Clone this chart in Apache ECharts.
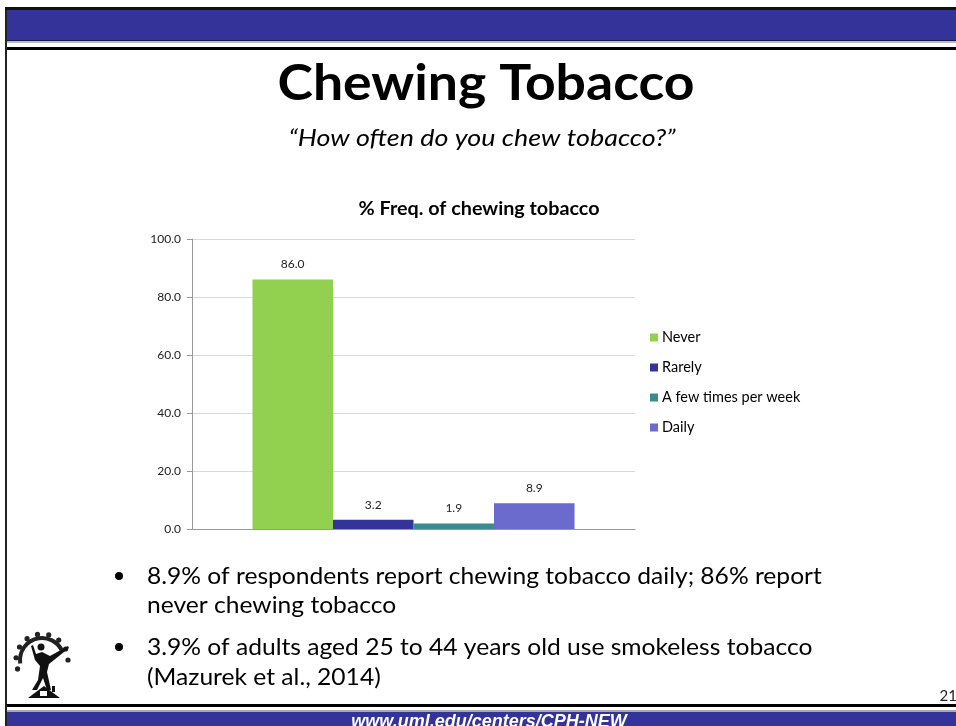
<!DOCTYPE html>
<html>
<head>
<meta charset="utf-8">
<style>
  html, body { margin: 0; padding: 0; background: #fff; }
  #chart { width: 956px; height: 726px; }
</style>
<script src="https://cdn.jsdelivr.net/npm/echarts@6/dist/echarts.min.js"></script>
</head>
<body>
<div id="chart"></div>
<script>
// Survey responses: how often respondents chew tobacco (% of respondents)
const seriesNames = ['Never', 'Rarely', 'A few times per week', 'Daily'];
const seriesValues = [86.0, 3.2, 1.9, 8.9];
const seriesColors = ['#92D050', '#333399', '#3B8C8E', '#6B6BCE'];
const yTicks = [0, 20, 40, 60, 80, 100];

const bullets = [
  ['8.9% of respondents report chewing tobacco daily; 86% report', 'never chewing tobacco'],
  ['3.9% of adults aged 25 to 44 years old use smokeless tobacco', '(Mazurek et al., 2014)']
];

const FONT = 'Lato, "Open Sans", sans-serif';
const chart = echarts.init(document.getElementById('chart'));

const series = seriesNames.map((name, i) => ({
  name: name,
  type: 'bar',
  data: [seriesValues[i]],
  barGap: '0%',
  barCategoryGap: '27.3%',
  itemStyle: { color: seriesColors[i] },
  label: {
    show: true,
    position: 'top',
    distance: 9,
    formatter: p => p.value.toFixed(1),
    fontFamily: FONT,
    fontSize: 12,
    color: '#222'
  }
}));

// horizontally stretched text helper (keeps glyph height, widens run)
function text(x, y, str, font, align, sx, fill) {
  return {
    type: 'text', x: x, y: y, scaleX: sx || 1,
    style: { text: str, fill: fill || '#000', font: font, textAlign: align, textVerticalAlign: 'middle' }
  };
}

// slide frame: header band, rules and footer band
const frame = [
  { type: 'rect', shape: { x: 5, y: 7, width: 2, height: 719 }, style: { fill: '#222' } },
  { type: 'rect', shape: { x: 5, y: 7, width: 951, height: 3 }, style: { fill: '#111' } },
  { type: 'rect', shape: { x: 7, y: 10, width: 949, height: 30 }, style: { fill: '#333399' } },
  { type: 'rect', shape: { x: 7, y: 40, width: 949, height: 1 }, style: { fill: '#1a1a4a' } },
  { type: 'rect', shape: { x: 7, y: 41, width: 949, height: 2 }, style: { fill: '#bbbbbb' } },
  { type: 'rect', shape: { x: 7, y: 47, width: 949, height: 3 }, style: { fill: '#000' } },
  { type: 'rect', shape: { x: 7, y: 704, width: 949, height: 3 }, style: { fill: '#000' } },
  { type: 'rect', shape: { x: 7, y: 710, width: 949, height: 2 }, style: { fill: '#aaaaaa' } },
  { type: 'rect', shape: { x: 7, y: 712, width: 949, height: 14 }, style: { fill: '#333399' } },
  {
    type: 'text', x: 489, y: 731,
    style: {
      text: 'www.uml.edu/centers/CPH-NEW', fill: '#fff',
      font: 'italic bold 18px "Liberation Sans", Arial, sans-serif',
      textAlign: 'center', textVerticalAlign: 'bottom'
    }
  },
  text(957, 696, '21', '15px ' + FONT, 'right', 1, '#222'),
  { ...text(0, 0, 'Chewing Tobacco', 'bold 50px ' + FONT, 'center', 1.07), x: 486, y: 84 },
  { ...text(0, 0, '\u201CHow often do you chew tobacco?\u201D', 'italic 24px ' + FONT, 'center', 1.12), x: 482, y: 138 },
  { ...text(0, 0, '% Freq. of chewing tobacco', 'bold 19px ' + FONT, 'center', 1.04), x: 479, y: 209 }
];

// bullet points below the chart
const bulletLineY = [[576, 605], [647, 677]];
const bulletEls = [];
bullets.forEach((lines, i) => {
  bulletEls.push({
    type: 'circle', shape: { cx: 119, cy: bulletLineY[i][0], r: 4 }, style: { fill: '#000' }
  });
  lines.forEach((t, j) => {
    bulletEls.push(text(147, bulletLineY[i][j], t, '24px ' + FONT, 'left', 1.025));
  });
});

// small emblem: gear arc, figure and roof
const gearTeeth = [];
for (let k = 0; k < 9; k++) {
  const a = (200 - k * 25) * Math.PI / 180;
  gearTeeth.push({
    type: 'circle',
    shape: { cx: 42 + 26 * Math.cos(a), cy: 660 - 26 * Math.sin(a), r: 2.6 },
    style: { fill: '#222' }
  });
}
const logo = [
  {
    type: 'arc',
    shape: { cx: 42, cy: 660, r: 22, startAngle: Math.PI * 0.95, endAngle: Math.PI * 1.85 },
    style: { stroke: '#222', lineWidth: 4, fill: null }
  },
  ...gearTeeth,
  {
    type: 'polygon',
    shape: { points: [[31, 646], [35, 660], [40, 666], [38, 680], [32, 690], [37, 690], [43, 678], [47, 690], [51, 690], [47, 672], [49, 664], [69, 648], [68, 646], [50, 656], [42, 652], [36, 654], [33, 645]] },
    style: { fill: '#111' }
  },
  { type: 'circle', shape: { cx: 41, cy: 647, r: 3.5 }, style: { fill: '#111' } },
  {
    type: 'polygon',
    shape: { points: [[28, 698], [44, 686], [60, 698]] },
    style: { fill: '#111' }
  },
  { type: 'rect', shape: { x: 40, y: 691, width: 7, height: 5 }, style: { fill: '#fff' } },
  { type: 'rect', shape: { x: 52, y: 686, width: 3, height: 6 }, style: { fill: '#111' } }
];

chart.setOption({
  animation: false,
  backgroundColor: '#fff',
  legend: {
    orient: 'vertical',
    left: 650, top: 330,
    padding: 0,
    icon: 'rect',
    itemWidth: 8, itemHeight: 8, itemGap: 15,
    textStyle: { fontFamily: FONT, fontSize: 14.5, color: '#000', lineHeight: 15, padding: [0, 0, 0, -1] },
    data: seriesNames
  },
  grid: { left: 192, right: 321, top: 239, bottom: 197 },
  xAxis: {
    type: 'category',
    data: [''],
    axisTick: { show: false },
    axisLabel: { show: false },
    axisLine: { lineStyle: { color: '#999', width: 1 } }
  },
  yAxis: {
    type: 'value',
    min: yTicks[0], max: yTicks[yTicks.length - 1], interval: 20,
    axisLine: { show: true, lineStyle: { color: '#999' } },
    axisTick: { show: true, length: 5, lineStyle: { color: '#999' } },
    splitLine: { lineStyle: { color: '#D9D9D9', width: 1 } },
    axisLabel: { formatter: v => v.toFixed(1), fontFamily: FONT, fontSize: 12, color: '#222', margin: 11 }
  },
  series: series,
  graphic: [...frame, ...bulletEls, ...logo]
});
</script>
</body>
</html>
